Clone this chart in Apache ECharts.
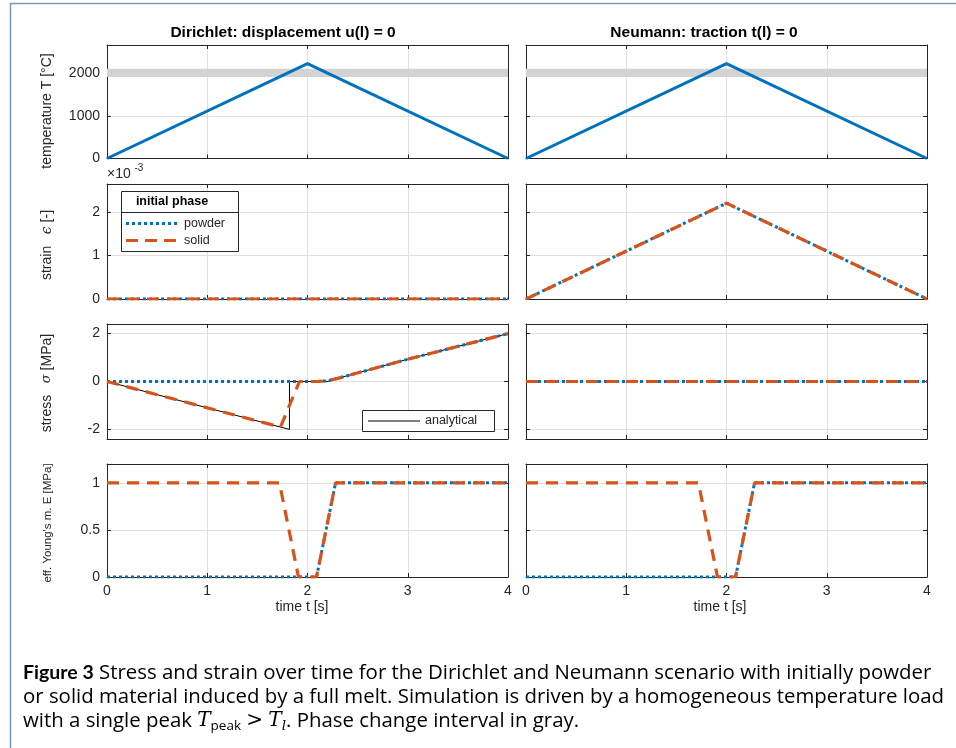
<!DOCTYPE html>
<html><head><meta charset="utf-8">
<script src="https://cdn.jsdelivr.net/npm/echarts@6/dist/echarts.min.js"></script>
<style>html,body{margin:0;padding:0;background:#fff}#c{width:956px;height:748px}</style>
</head><body><div id="c"></div>
<script>
// ---------------- data ----------------
const timeTicks = [0, 1, 2, 3, 4];
const tTemp = [0, 2, 4];
const tempT = [0, 2230, 0];
const phaseBand = [1915, 2110];
const tStrainDir = [0, 4];
const strainPowderDir = [0, 0];
const strainSolidDir = [0, 0];
const tStrainNeu = [0, 2, 4];
const strainPowderNeu = [0, 2.2, 0];   // x 10^-3
const strainSolidNeu = [0, 2.2, 0];    // x 10^-3
const tStressPowderDir = [0, 2.1, 2.2, 2.3, 3, 4];
const stressPowderDir = [0, 0, 0.03, 0.13, 0.93, 2.0];
const tStressSolidDir = [0, 1.73, 1.92, 2.1, 2.2, 2.3, 3, 4];
const stressSolidDir = [0, -1.9, 0, 0, 0.03, 0.13, 0.93, 2.0];
const tStressAnalytical = [0, 1.82, 1.82, 2.2, 2.3, 3, 4];
const stressAnalytical = [0, -2.0, 0, 0, 0.13, 0.93, 2.0];
const tStressNeu = [0, 4];
const stressPowderNeu = [0, 0];
const stressSolidNeu = [0, 0];
const tEPowder = [0, 2.09, 2.28, 4];
const EPowder = [0, 0, 1, 1];
const tESolid = [0, 1.72, 1.91, 2.09, 2.28, 4];
const ESolid = [1, 1, 0, 0, 1, 1];
const tempTicks = [0, 1000, 2000];
const strainTicks = [0, 1, 2];
const stressTicks = [-2, 0, 2];
const ETicks = [0, 0.5, 1];
const colTitles = ['Dirichlet: displacement u(l) = 0', 'Neumann: traction t(l) = 0'];

// ---------------- layout ----------------
const FONT = 'Liberation Sans';
const AX = '#262626';
const GRIDC = '#e0e0e0';
const colLeft = [107, 526], colW = 401;
const rowTop = [45, 184, 324, 464], rowH = [113.5, 115, 115, 113];
const rowY = [
  {min: 0, max: 2670, ticks: tempTicks},
  {min: 0, max: 2.64, ticks: strainTicks},
  {min: -2.4, max: 2.4, ticks: stressTicks},
  {min: 0, max: 1.2, ticks: ETicks}
];
const pairs = (ts, ys) => ts.map((t, i) => [t, ys[i]]);

const grid = [], xAxis = [], yAxis = [], series = [];
for (let r = 0; r < 4; r++) {
  for (let c = 0; c < 2; c++) {
    const g = r * 2 + c;
    grid.push({left: colLeft[c], top: rowTop[r], width: colW, height: rowH[r], outerBoundsMode: 'none'});
    const common = {
      gridIndex: g, type: 'value',
      axisLine: {show: true, onZero: false, lineStyle: {color: AX, width: 1}},
      axisTick: {show: true, inside: true, length: 4, lineStyle: {color: AX, width: 1}}
    };
    xAxis.push(Object.assign({}, common, {
      position: 'bottom', min: 0, max: 4,
      axisTick: Object.assign({}, common.axisTick, {customValues: timeTicks}),
      axisLabel: {show: r === 3, customValues: timeTicks, color: AX, fontSize: 14, fontFamily: FONT, margin: 7, formatter: v => String(v)},
      splitLine: {show: true, lineStyle: {color: GRIDC, width: 1}}
    }));
    xAxis.push(Object.assign({}, common, {
      position: 'top', min: 0, max: 4,
      axisTick: Object.assign({}, common.axisTick, {customValues: timeTicks}),
      axisLabel: {show: false}, splitLine: {show: false}
    }));
    const ry = rowY[r];
    yAxis.push(Object.assign({}, common, {
      position: 'left', min: ry.min, max: ry.max,
      axisTick: Object.assign({}, common.axisTick, {customValues: ry.ticks}),
      axisLabel: {show: c === 0, customValues: ry.ticks, color: AX, fontSize: 14, fontFamily: FONT, margin: 7, formatter: v => String(v)},
      splitLine: {show: true, lineStyle: {color: GRIDC, width: 1}}
    }));
    yAxis.push(Object.assign({}, common, {
      position: 'right', min: ry.min, max: ry.max,
      axisTick: Object.assign({}, common.axisTick, {customValues: ry.ticks}),
      axisLabel: {show: false}, splitLine: {show: false}
    }));
  }
}

const BLUE = '#0072BD', ORANGE = '#D95319';
const dotStyle = {color: BLUE, width: 3, type: [3, 3], cap: 'butt'};
const dashStyle = {color: ORANGE, width: 3.2, type: [12, 8], cap: 'butt'};
function addLine(g, data, lineStyle, z, extra) {
  series.push(Object.assign({
    type: 'line', xAxisIndex: 2 * g, yAxisIndex: 2 * g, data: data,
    showSymbol: false, symbol: 'none', silent: true, animation: false,
    lineStyle: lineStyle, itemStyle: {color: lineStyle.color}, z: z
  }, extra || {}));
}
// row 1: temperature + phase-change band
for (let c = 0; c < 2; c++) {
  addLine(c, pairs([0, 4], [phaseBand[0], phaseBand[0]]), {color: '#d3d3d3', width: 0, opacity: 0}, 1, {
    markArea: {silent: true, itemStyle: {color: '#d3d3d3'}, data: [[{yAxis: phaseBand[0]}, {yAxis: phaseBand[1]}]]}
  });
  addLine(c, pairs(tTemp, tempT), {color: BLUE, width: 3}, 3);
}
// row 2: strain
addLine(2, pairs(tStrainDir, strainPowderDir), dotStyle, 3);
addLine(2, pairs(tStrainDir, strainSolidDir), dashStyle, 4);
addLine(3, pairs(tStrainNeu, strainPowderNeu), dotStyle, 3);
addLine(3, pairs(tStrainNeu, strainSolidNeu), dashStyle, 4);
// row 3: stress
addLine(4, pairs(tStressAnalytical, stressAnalytical), {color: '#000', width: 1}, 2);
addLine(4, pairs(tStressPowderDir, stressPowderDir), dotStyle, 3);
addLine(4, pairs(tStressSolidDir, stressSolidDir), dashStyle, 4);
addLine(5, pairs(tStressNeu, stressPowderNeu), dotStyle, 3);
addLine(5, pairs(tStressNeu, stressSolidNeu), dashStyle, 4);
// row 4: effective Young's modulus
for (let c = 0; c < 2; c++) {
  addLine(6 + c, pairs(tEPowder, EPowder), dotStyle, 3);
  addLine(6 + c, pairs(tESolid, ESolid), dashStyle, 4);
}

// ---------------- annotations ----------------
const G = [];
const txt = (x, y, text, style, extra) => G.push(Object.assign({type: 'text', x: x, y: y, z: 100, silent: true,
  style: Object.assign({text: text, fill: AX, font: '14px ' + FONT, align: 'left', verticalAlign: 'middle'}, style)}, extra || {}));
// frame
G.push({type: 'polyline', z: 100, silent: true, shape: {points: [[10.5, 760], [10.5, 3.5], [970, 3.5]]}, style: {stroke: '#8196bb', lineWidth: 1.5, fill: null}});
// column titles
txt(283, 32.5, colTitles[0], {font: 'bold 15.5px ' + FONT, fill: '#000', align: 'center'});
txt(704, 32.5, colTitles[1], {font: 'bold 15.5px ' + FONT, fill: '#000', align: 'center'});
// x-axis names
txt(302, 607, 'time t [s]', {align: 'center'});
txt(720, 607, 'time t [s]', {align: 'center'});
// y-axis names
const rot = {rotation: Math.PI / 2};
txt(47, 111, 'temperature T [°C]', {align: 'center'}, rot);
txt(47, 245, '{a|strain   }{e|ϵ}{a| [-]}', {align: 'center', rich: {a: {font: '14px ' + FONT, fill: AX}, e: {font: 'italic 14px DejaVu Serif', fill: AX}}}, rot);
txt(47, 383, '{a|stress   }{e|σ}{a| [MPa]}', {align: 'center', rich: {a: {font: '14px ' + FONT, fill: AX}, e: {font: 'italic 13px DejaVu Serif', fill: AX}}}, rot);
txt(48, 523, "eff. Young's m. E [MPa]", {align: 'center', font: '11.5px ' + FONT}, rot);
// exponent
txt(107, 174.5, '×10', {});
txt(134.5, 168.5, '-3', {font: '10px ' + FONT});
// legend: initial phase
G.push({type: 'rect', z: 99, silent: true, shape: {x: 121.5, y: 191.5, width: 117, height: 60}, style: {fill: '#fff', stroke: AX, lineWidth: 1}});
G.push({type: 'line', z: 100, silent: true, shape: {x1: 121.5, y1: 212.5, x2: 238.5, y2: 212.5}, style: {stroke: AX, lineWidth: 1}});
txt(172, 202, 'initial phase', {font: 'bold 12.5px ' + FONT, fill: '#000', align: 'center'});
G.push({type: 'line', z: 100, silent: true, shape: {x1: 126, y1: 223.5, x2: 177, y2: 223.5}, style: {stroke: BLUE, lineWidth: 3, lineDash: [3, 3]}});
G.push({type: 'line', z: 100, silent: true, shape: {x1: 126, y1: 240.5, x2: 177, y2: 240.5}, style: {stroke: ORANGE, lineWidth: 3.2, lineDash: [12, 7]}});
txt(184, 223.5, 'powder', {font: '12.5px ' + FONT});
txt(184, 240.5, 'solid', {font: '12.5px ' + FONT});
// legend: analytical
G.push({type: 'rect', z: 99, silent: true, shape: {x: 362.5, y: 410.5, width: 132, height: 21}, style: {fill: '#fff', stroke: AX, lineWidth: 1}});
G.push({type: 'line', z: 100, silent: true, shape: {x1: 368, y1: 421, x2: 420, y2: 421}, style: {stroke: '#000', lineWidth: 1}});
txt(425, 421, 'analytical', {font: '12.5px ' + FONT});
// caption
const CF = 'Open Sans';
const capRich = {
  b: {font: 'bold 19.5px Lato', fill: '#000'},
  m: {font: 'italic 20px DejaVu Serif', fill: '#000'},
  r: {font: '20px DejaVu Serif', fill: '#000'},
  s: {font: '13.5px ' + CF, fill: '#000', padding: [10, 0, 0, 0]},
  si: {font: 'italic 13.5px DejaVu Serif', fill: '#000', padding: [10, 0, 0, 0]}
};
const capStyle = {font: '20.4px ' + CF, fill: '#000', rich: capRich};
txt(23, 673, '{b|Figure 3} Stress and strain over time for the Dirichlet and Neumann scenario with initially powder', capStyle);
txt(23, 697, 'or solid material induced by a full melt. Simulation is driven by a homogeneous temperature load', capStyle);
txt(23, 721, 'with a single peak {m|T}{s|peak} {r|>} {m|T}{si|l}. Phase change interval in gray.', capStyle);

const chart = echarts.init(document.getElementById('c'), null, {renderer: 'canvas'});
chart.setOption({
  animation: false, backgroundColor: '#fff',
  grid: grid, xAxis: xAxis, yAxis: yAxis, series: series,
  graphic: {elements: G}
});
</script></body></html>
